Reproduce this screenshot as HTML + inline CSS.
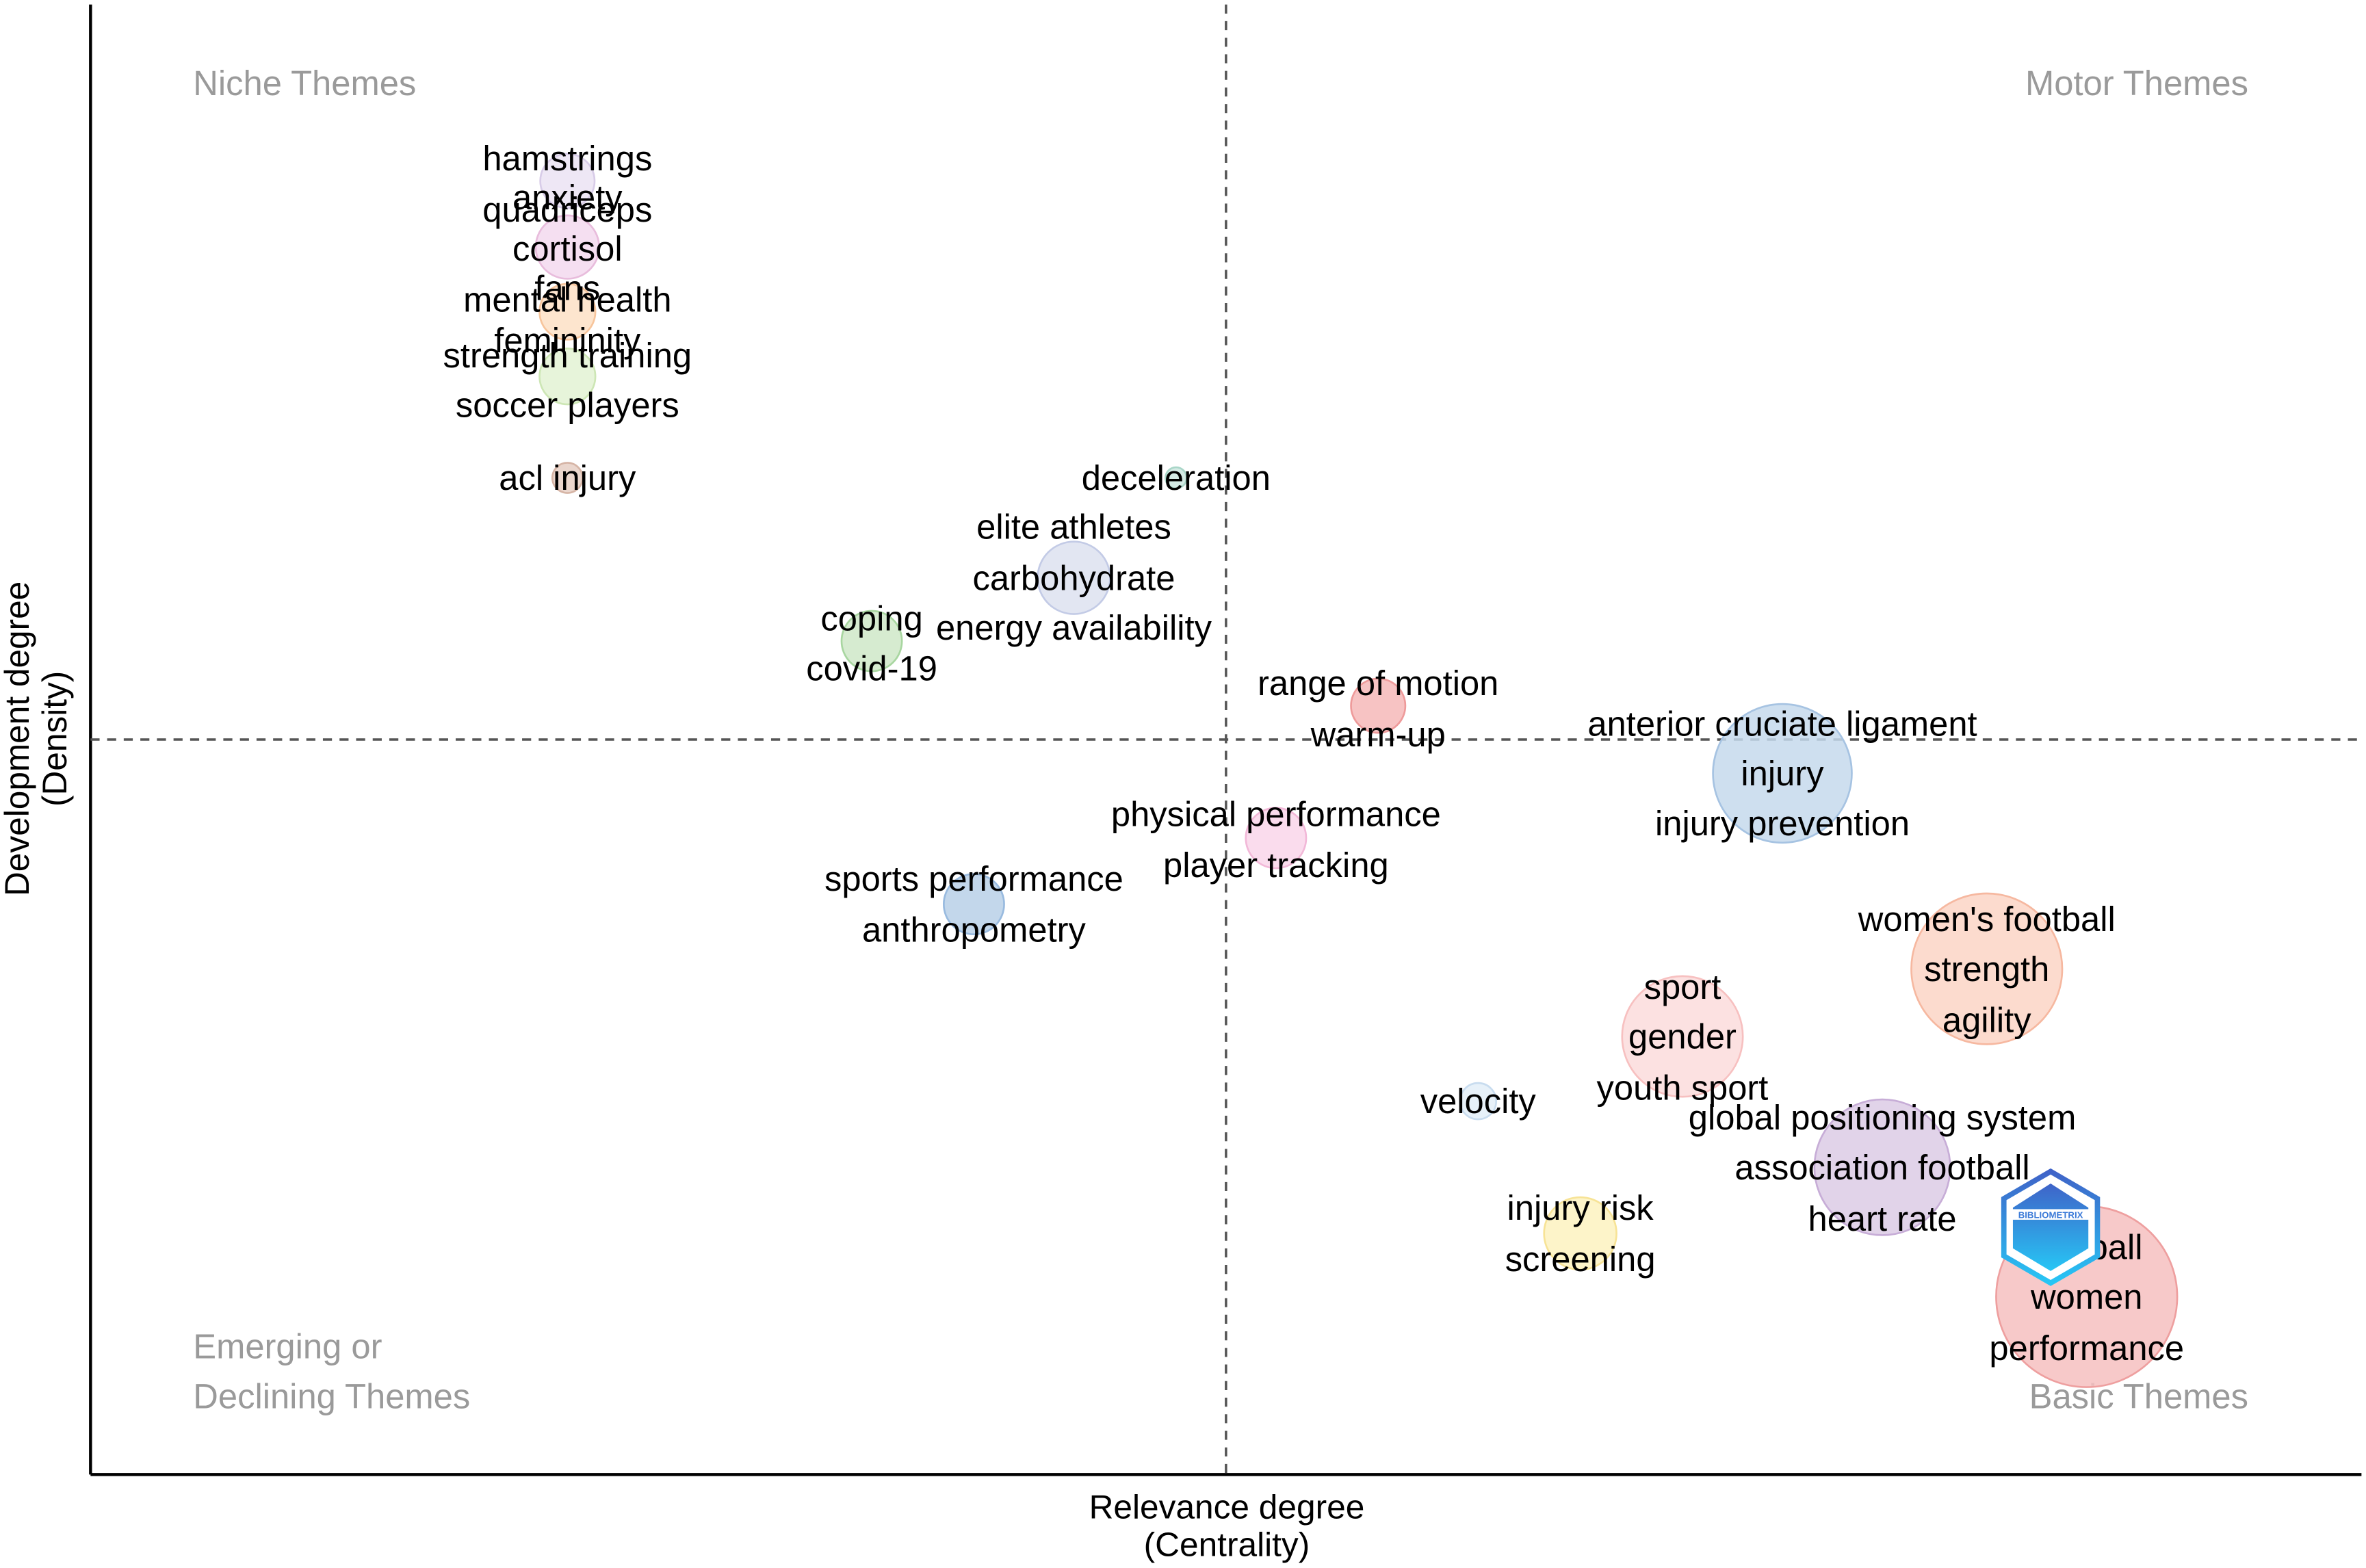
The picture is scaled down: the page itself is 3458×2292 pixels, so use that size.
<!DOCTYPE html>
<html><head><meta charset="utf-8"><style>
html,body{margin:0;padding:0;background:#fff;}
svg{display:block;font-family:"Liberation Sans",Arial,sans-serif;}
</style></head><body>
<svg id="chart" width="3458" height="2292" viewBox="0 0 1568 1040" preserveAspectRatio="none" xmlns="http://www.w3.org/2000/svg">
<defs><linearGradient id="lg" x1="0" y1="0" x2="0" y2="1"><stop offset="0" stop-color="#3f63c8"/><stop offset="1" stop-color="#27c6f5"/></linearGradient></defs>
<rect width="1568" height="1040" fill="#fff"/>
<g id="plot"></g>
</svg>
<script>
// ---- data ----
const themeNames = ["hamstrings","cortisol","mental health","soccer players","acl injury","deceleration","elite athletes","coping","range of motion","anterior cruciate ligament","physical performance","sports performance","women's football","sport","velocity","global positioning system","injury risk","football"];
const centrality = [2.10,2.10,2.10,2.10,2.10,4.78,4.33,3.44,5.67,7.45,5.22,3.89,8.35,7.01,6.11,7.89,6.56,8.79];
const density = [8.80,8.35,7.91,7.47,6.78,6.78,6.10,5.67,5.23,4.77,4.33,3.88,3.44,2.98,2.54,2.09,1.64,1.21];
const clusterSize = [18,21,18.5,18.5,10,7,24,20,18,46,20,20,50,40,12,45,24,60];
const labelSets = [
 ["hamstrings","quadriceps"],
 ["anxiety","cortisol","fans"],
 ["mental health","femininity"],
 ["strength training","soccer players"],
 ["acl injury"],["deceleration"],
 ["elite athletes","carbohydrate","energy availability"],
 ["coping","covid-19"],["range of motion","warm-up"],
 ["anterior cruciate ligament","injury","injury prevention"],
 ["physical performance","player tracking"],
 ["sports performance","anthropometry"],
 ["women's football","strength","agility"],
 ["sport","gender","youth sport"],["velocity"],
 ["global positioning system","association football","heart rate"],
 ["injury risk","screening"],["football","women","performance"]];
const meanCentrality = 5.0;
const meanDensity = 5.0;
// ---- style / layout ----
const colors = ["#ebe3f3","#f3d9ee","#fde0c5","#e3f2d4","#e6cfc4","#cde8e0","#dde2f0","#cfe8c8","#f6b8b8","#c6d9ec","#f9d6ea","#b8d0e8","#fbd5c5","#fcdcdc","#e3eef8","#dccbe5","#fdf2c0","#f6c0c0"];
const strokes = ["#d8cce8","#e8bcdc","#f7c59c","#cde6b5","#d6b5a6","#a9d6c8","#c3cbe6","#a8d6a0","#ee9a9a","#a6c3e2","#f2b8d8","#98badf","#f6b8a0","#f7c0c0","#c8dcef","#c7add7","#f7e396","#ee9f9f"];
const labelOffsets = [[-15,19],[-33,1,27],[-8,19],[-14,19],[0],[0],[-34,0,33],[-15,18],[-15,19],[-33,0,33],[-16,18],[-17,17],[-33,0,34],[-33,0,34],[0],[-33,0,34],[-17,17],[-33,0,34]];
const X0=60,X1=1565,Y0=978,Y1=3;
const xs = v => X0 + v/10*(X1-X0);
const ys = v => Y0 - v/10*(Y0-Y1);
const NS="http://www.w3.org/2000/svg";
const g=document.getElementById('plot');
function mk(tag,attrs,parent){const e=document.createElementNS(NS,tag);for(const k in attrs)e.setAttribute(k,attrs[k]);(parent||g).appendChild(e);return e;}
// axes
let e=mk('line',{x1:X0,y1:Y1,x2:X0,y2:Y0,stroke:'#000','stroke-width':2});


e=mk('line',{x1:X0,y1:Y0,x2:X1,y2:Y0,stroke:'#000','stroke-width':2});


e=mk('line',{x1:xs(meanCentrality),y1:Y1,x2:xs(meanCentrality),y2:Y0,stroke:'#555','stroke-width':1.6,'stroke-dasharray':'6,5'});


e=mk('line',{x1:X0,y1:ys(meanDensity),x2:X1,y2:ys(meanDensity),stroke:'#555','stroke-width':1.6,'stroke-dasharray':'6,5'});


// quadrant labels
const quad=[["Niche Themes",128,63,"start","niche-themes-label"],["Motor Themes",1490,63,"end","motor-themes-label"],["Emerging or",128,901,"start","emerging-themes-label"],["Declining Themes",128,934,"start","declining-themes-label"],["Basic Themes",1490,934,"end","basic-themes-label"]];
quad.forEach(q=>{const t=mk('text',{x:q[1],y:q[2],'text-anchor':q[3],'font-size':23,fill:'#9a9a9a'});t.textContent=q[0];

});
// axis titles
e=mk('text',{x:813,y:1007,'text-anchor':'middle','font-size':22.5,fill:'#000'});e.textContent='Relevance degree';


e=mk('text',{x:813,y:1032,'text-anchor':'middle','font-size':22.5,fill:'#000'});e.textContent='(Centrality)';


e=mk('text',{x:0,y:0,'text-anchor':'middle','font-size':22.5,fill:'#000',transform:'translate(19,490) rotate(-90)'});e.textContent='Development degree';


e=mk('text',{x:0,y:0,'text-anchor':'middle','font-size':22.5,fill:'#000',transform:'translate(44,490) rotate(-90)'});e.textContent='(Density)';


// bubbles
themeNames.forEach((n,i)=>{
 const c=mk('circle',{cx:xs(centrality[i]),cy:ys(density[i]),r:clusterSize[i],fill:colors[i],stroke:strokes[i],'stroke-width':1.2,'fill-opacity':0.85});
 
 
});
// labels
themeNames.forEach((n,i)=>{
 labelSets[i].forEach((lab,j)=>{
  const t=mk('text',{x:xs(centrality[i]),y:ys(density[i])+labelOffsets[i][j]+8,'text-anchor':'middle','font-size':23,fill:'#000'});
  t.textContent=lab;
  
  
 });
});
// logo
const lg=mk('g',{transform:'translate(1359,814)'});


mk('polygon',{points:'0,-37 31,-19 31,19 0,37 -31,19 -31,-19',fill:'#fff',stroke:'url(#lg)','stroke-width':3.5},lg);
mk('polygon',{points:'0,-29 25,-13 25,14 0,29 -25,14 -25,-13',fill:'url(#lg)'},lg);
mk('rect',{x:-26,y:-12,width:52,height:7,fill:'#fff'},lg);
const lt=mk('text',{x:0,y:-6,'text-anchor':'middle','font-size':6,'font-weight':'bold',fill:'#3a7ad8'},lg);lt.textContent='BIBLIOMETRIX';


</script>
</body></html>
